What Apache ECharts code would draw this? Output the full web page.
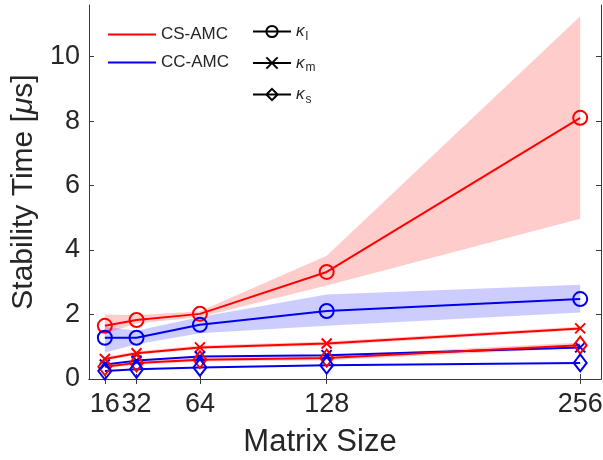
<!DOCTYPE html>
<html>
<head>
<meta charset="utf-8">
<script src="https://cdn.jsdelivr.net/npm/echarts@6/dist/echarts.min.js"></script>
<style>
  html, body { margin: 0; padding: 0; background: #fff; }
  #main { width: 603px; height: 460px; }
</style>
</head>
<body>
<div id="main"></div>
<script>
// matrix sizes on the x axis
const sizes = [16, 32, 64, 128, 256];
const yTicks = [0, 2, 4, 6, 8, 10];

// kappa_l
const csL = [1.65, 1.83, 2.02, 3.32, 8.1];
const csLLo = [1.4, 1.72, 1.92, 2.9, 4.97];
const csLHi = [2.0, 1.98, 2.1, 3.82, 11.25];
const ccL = [1.28, 1.28, 1.68, 2.11, 2.48];
const ccLLo = [0.82, 1.08, 1.42, 1.65, 2.06];
const ccLHi = [1.62, 1.5, 1.92, 2.62, 2.92];
// kappa_m
const csM = [0.62, 0.8, 0.98, 1.1, 1.57];
const csMLo = [0.57, 0.75, 0.93, 1.04, 1.52];
const csMHi = [0.68, 0.86, 1.04, 1.16, 1.63];
const ccM = [0.45, 0.57, 0.7, 0.74, 0.98];
// kappa_s
const csS = [0.38, 0.5, 0.6, 0.65, 1.05];
const csSLo = [0.33, 0.44, 0.54, 0.58, 0.96];
const csSHi = [0.44, 0.56, 0.66, 0.72, 1.13];
const ccS = [0.25, 0.3, 0.36, 0.43, 0.5];

const RED = '#ff0000';
const BLUE = '#0000ee';
const AXIS = '#3a3a3a';
const TEXT = '#262626';
const FONT = '"Liberation Sans", Arial, sans-serif';
const crossPath = 'path://M0,0L10,10M10,0L0,10';
const linePath = 'path://M0,0h50v2h-50z';

function pts(ys) {
  return sizes.map((x, i) => [x, ys[i]]);
}

// shaded spread: polygon through upper points and back along the lower ones
function band(lo, hi, color) {
  return {
    type: 'custom', z: 1, silent: true,
    data: sizes.map((x, i) => [x, lo[i], hi[i]]),
    encode: { x: 0, y: [1, 2] },
    renderItem: (params, api) => {
      if (params.dataIndex !== 0) return;
      const upper = sizes.map((x, i) => api.coord([x, hi[i]]));
      const lower = sizes.map((x, i) => api.coord([x, lo[i]])).reverse();
      return {
        type: 'polygon',
        shape: { points: upper.concat(lower) },
        style: { fill: color }
      };
    }
  };
}

function curve(name, ys, color, symbol, size) {
  return {
    name: name, type: 'line', data: pts(ys), z: 3,
    symbol: symbol, symbolSize: size, showAllSymbol: true,
    lineStyle: { color: color, width: 2 },
    itemStyle: { color: 'rgba(0,0,0,0)', borderColor: color, borderWidth: 2 }
  };
}

function legendOnly(name, color, symbol, size) {
  return {
    name: name, type: 'line', data: [],
    symbol: symbol, symbolSize: size,
    lineStyle: { color: color, width: 2 },
    itemStyle: { color: symbol === 'none' ? color : 'rgba(0,0,0,0)', borderColor: color, borderWidth: 2 }
  };
}

const chart = echarts.init(document.getElementById('main'));
chart.setOption({
  animation: false,
  backgroundColor: '#fff',
  textStyle: { fontFamily: FONT },
  grid: { left: 89, right: 2, top: 5, bottom: 81, outerBoundsMode: 'none', containLabel: false },
  legend: [{
    data: [
      { name: 'CS-AMC', icon: linePath, itemStyle: { borderWidth: 0 } },
      { name: 'CC-AMC', icon: linePath, itemStyle: { borderWidth: 0 } }
    ],
    orient: 'vertical', left: 103, top: 21,
    itemWidth: 48, itemHeight: 14, itemGap: 11,
    textStyle: { fontSize: 17, color: TEXT, fontFamily: FONT },
    selectedMode: false
  }, {
    data: ['kl', 'km', 'ks'],
    orient: 'vertical', left: 247, top: 18,
    itemWidth: 38, itemHeight: 14, itemGap: 12,
    selectedMode: false,
    formatter: name => '{k|κ}{s|' + name.slice(1) + '}',
    textStyle: {
      color: TEXT, fontFamily: FONT,
      rich: {
        k: { fontSize: 17, color: TEXT, fontStyle: 'italic' },
        s: { fontSize: 12, color: TEXT, padding: [10, 0, 0, 1] }
      }
    }
  }],
  xAxis: [{
    type: 'value', min: 8, max: 266.5,
    name: 'Matrix Size', nameLocation: 'middle', nameGap: 48,
    nameTextStyle: { fontSize: 31, color: TEXT, padding: [0, 50, 0, 0] },
    axisLine: { show: true, lineStyle: { color: AXIS, width: 1 } },
    axisTick: { show: true, inside: true, length: 5, customValues: sizes, lineStyle: { color: AXIS } },
    axisLabel: { customValues: sizes, fontSize: 27, color: TEXT, margin: 12 },
    splitLine: { show: false }
  }, {
    type: 'value', min: 8, max: 266.5, position: 'top',
    axisLine: { show: true, lineStyle: { color: AXIS, width: 1 } },
    axisTick: { show: true, inside: true, length: 5, customValues: sizes, lineStyle: { color: AXIS } },
    axisLabel: { show: false },
    splitLine: { show: false }
  }],
  yAxis: [{
    type: 'value', min: 0, max: 11.6,
    name: '{t|Stability Time [}{m|μ}{t|s]}', nameLocation: 'middle', nameGap: 48,
    nameTextStyle: {
      rich: {
        t: { fontSize: 30, color: TEXT, fontFamily: FONT },
        m: { fontSize: 30, color: TEXT, fontFamily: FONT, fontStyle: 'italic' }
      }
    },
    axisLine: { show: true, lineStyle: { color: AXIS, width: 1 } },
    axisTick: { show: true, inside: true, length: 5, customValues: yTicks, lineStyle: { color: AXIS } },
    axisLabel: { customValues: yTicks, fontSize: 27, color: TEXT, margin: 9 },
    splitLine: { show: false }
  }, {
    type: 'value', min: 0, max: 11.6, position: 'right',
    axisLine: { show: true, lineStyle: { color: AXIS, width: 1 } },
    axisTick: { show: true, inside: true, length: 5, customValues: yTicks, lineStyle: { color: AXIS } },
    axisLabel: { show: false },
    splitLine: { show: false }
  }],
  series: [
    band(csLLo, csLHi, 'rgba(255,0,0,0.2)'),
    band(ccLLo, ccLHi, 'rgba(0,0,255,0.2)'),
    band(csMLo, csMHi, 'rgba(255,0,0,0.2)'),
    band(csSLo, csSHi, 'rgba(255,0,0,0.2)'),
    curve('CS l', csL, RED, 'circle', 14),
    curve('CC l', ccL, BLUE, 'circle', 14),
    curve('CS m', csM, RED, crossPath, 10),
    curve('CC m', ccM, BLUE, crossPath, 10),
    curve('CS s', csS, RED, 'diamond', [13, 17]),
    curve('CC s', ccS, BLUE, 'diamond', [13, 17]),
    legendOnly('CS-AMC', RED, 'none', 0),
    legendOnly('CC-AMC', BLUE, 'none', 0),
    legendOnly('kl', '#000', 'circle', 13),
    legendOnly('km', '#000', crossPath, 9),
    legendOnly('ks', '#000', 'diamond', [12, 16])
  ]
});
</script>
</body>
</html>
